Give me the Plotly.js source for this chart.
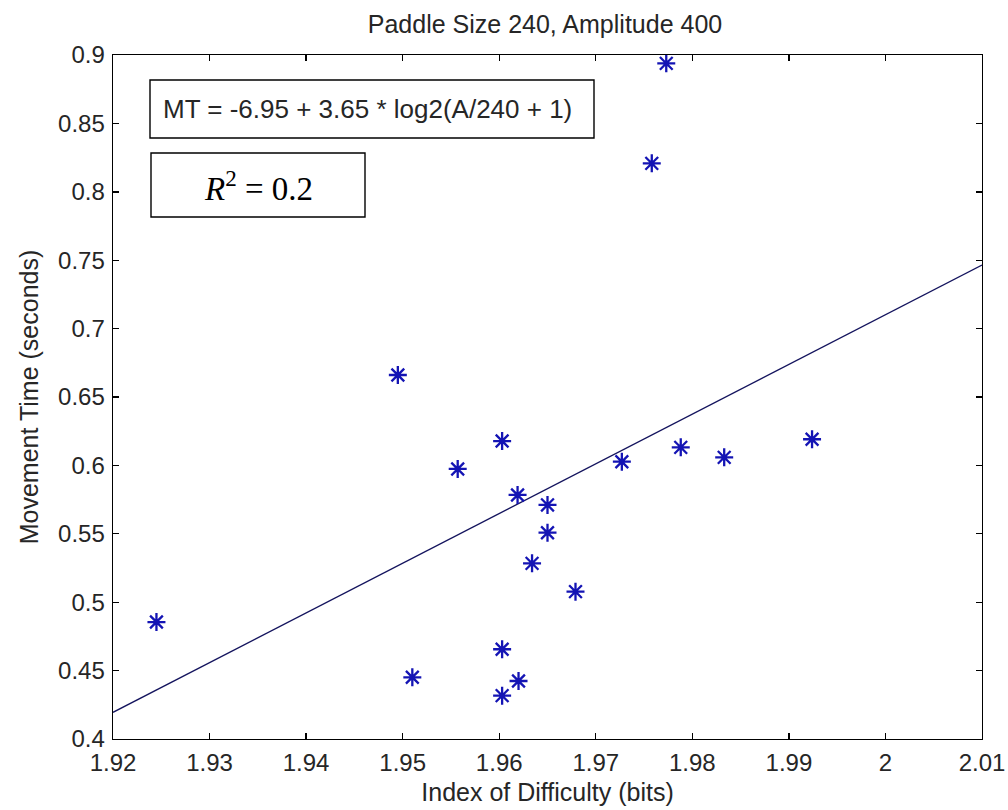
<!DOCTYPE html>
<html>
<head>
<meta charset="utf-8">
<script src="https://cdn.plot.ly/plotly-3.0.1.min.js"></script>
<style>html,body{margin:0;padding:0;background:#fff;}#chart{width:1008px;height:810px;}</style>
</head>
<body>
<div id="chart"></div>
<script>
// Data
const indexOfDifficulty = [1.9245, 1.9495, 1.9510, 1.9557, 1.9603, 1.9603, 1.9603, 1.9619, 1.9620,
  1.9634, 1.9650, 1.9650, 1.9679, 1.9727, 1.9758, 1.9773, 1.9788, 1.9833, 1.9924];
const movementTime = [0.4855, 0.6661, 0.4451, 0.5974, 0.6178, 0.4656, 0.4317, 0.5784, 0.4424,
  0.5284, 0.5711, 0.5508, 0.5077, 0.6027, 0.8208, 0.8939, 0.6132, 0.6059, 0.6191];
const fitX = [1.92, 2.01];
const fitY = [0.4195, 0.7465];
const xTickVals = [1.92, 1.93, 1.94, 1.95, 1.96, 1.97, 1.98, 1.99, 2.00, 2.01];
const xTickText = ["1.92", "1.93", "1.94", "1.95", "1.96", "1.97", "1.98", "1.99", "2", "2.01"];
const yTickVals = [0.4, 0.45, 0.5, 0.55, 0.6, 0.65, 0.7, 0.75, 0.8, 0.85, 0.9];
const yTickText = ["0.4", "0.45", "0.5", "0.55", "0.6", "0.65", "0.7", "0.75", "0.8", "0.85", "0.9"];
const chartTitle = "Paddle Size 240, Amplitude 400";
const xTitle = "Index of Difficulty (bits)";
const yTitle = "Movement Time (seconds)";
const equationText = "MT = -6.95 + 3.65 * log2(A/240 + 1)";
const r2Text = "<i>R</i><sup>2</sup> = 0.2";

const W = 1008, H = 810;
const m = {l: 113, r: 26, t: 55, b: 71};
const pw = W - m.l - m.r, ph = H - m.t - m.b;
const px = p => (p - m.l) / pw;
const py = p => (H - m.b - p) / ph;

const font = "Liberation Sans, Arial, sans-serif";
const txtColor = "#262626";

const traces = [
  {
    x: fitX, y: fitY, type: "scatter", mode: "lines",
    line: {color: "#14145e", width: 1.3}, hoverinfo: "skip", showlegend: false
  },
  {
    x: indexOfDifficulty, y: movementTime, type: "scatter", mode: "markers",
    marker: {symbol: "asterisk-open", size: 15, color: "#1414b4", line: {color: "#1414b4", width: 2.3}},
    showlegend: false
  }
];

const axisCommon = {
  showgrid: false, zeroline: false, showline: true, linecolor: "#000", linewidth: 1.4,
  mirror: "ticks", ticks: "inside", ticklen: 6, tickwidth: 1.4, tickcolor: "#000",
  tickfont: {family: font, size: 24, color: txtColor}
};

const layout = {
  width: W, height: H,
  margin: m,
  paper_bgcolor: "#fff", plot_bgcolor: "#fff",
  title: {text: chartTitle, font: {family: font, size: 25, color: txtColor}, x: 545 / W, xanchor: "center", y: 1 - 24 / H, yanchor: "middle"},
  xaxis: Object.assign({}, axisCommon, {
    range: [1.92, 2.01], tickmode: "array", tickvals: xTickVals, ticktext: xTickText,
    ticklabelstandoff: 2,
    title: {text: xTitle, font: {family: font, size: 25, color: txtColor}, standoff: 8}
  }),
  yaxis: Object.assign({}, axisCommon, {
    range: [0.4, 0.9], tickmode: "array", tickvals: yTickVals, ticktext: yTickText,
    ticklabelstandoff: 2,
    title: {text: yTitle, font: {family: font, size: 25, color: txtColor}, standoff: 12}
  }),
  shapes: [
    {type: "rect", xref: "paper", yref: "paper", x0: px(150), x1: px(594), y0: py(138), y1: py(80),
     line: {color: "#000", width: 1.4}, fillcolor: "#fff", layer: "above"},
    {type: "rect", xref: "paper", yref: "paper", x0: px(151), x1: px(365), y0: py(217), y1: py(153),
     line: {color: "#000", width: 1.4}, fillcolor: "#fff", layer: "above"}
  ],
  annotations: [
    {xref: "paper", yref: "paper", x: px(161), y: py(109), xanchor: "left", yanchor: "middle",
     text: equationText, showarrow: false, font: {family: font, size: 26, color: txtColor}},
    {xref: "paper", yref: "paper", x: px(258), y: py(186), xanchor: "center", yanchor: "middle",
     text: r2Text, showarrow: false, font: {family: "Liberation Serif, DejaVu Serif, serif", size: 33, color: "#000"}}
  ]
};

Plotly.newPlot("chart", traces, layout, {displayModeBar: false, staticPlot: true});
</script>
</body>
</html>
